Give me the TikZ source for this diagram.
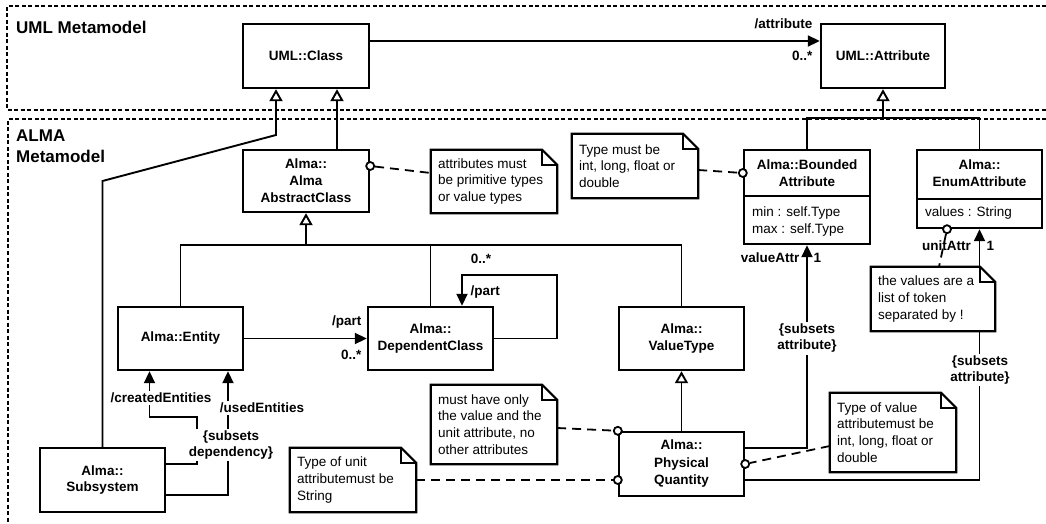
\documentclass[tikz,border=0pt]{standalone}
\usepackage{fontspec}
\setmainfont{Liberation Sans}
\usetikzlibrary{arrows.meta}
\pgfdeclarelayer{bg}
\pgfsetlayers{bg,main}
\newcommand\drawnote[1]{%
  \draw[line width=2.2pt, fill=white, line join=miter] (#1.north west) -- ([xshift=-15pt]#1.north east) -- ([yshift=-15pt]#1.north east) -- (#1.south east) -- (#1.south west) -- cycle;
  \draw[line width=2.2pt] ([xshift=-15pt]#1.north east) |- ([yshift=-15pt]#1.north east);}
\begin{document}
\begin{tikzpicture}[x=1pt,y=-1pt,
  cls/.style={draw, fill=white, line width=2.4pt, inner sep=0pt, align=center, font=\bfseries\fontsize{13.5}{17}\selectfont},
  txt/.style={inner sep=0pt, align=center, font=\bfseries\fontsize{13.5}{16.5}\selectfont},
  attrtxt/.style={inner sep=0pt, align=left, font=\fontsize{13.5}{17}\selectfont},
  notebase/.style={rectangle, inner sep=0pt},
  notetxt/.style={inner sep=0pt, align=left, font=\fontsize{13.5}{16.7}\selectfont},
  lbl/.style={inner sep=0.5pt, font=\bfseries\fontsize{13.5}{16}\selectfont},
  lblw/.style={inner sep=2pt, fill=white, align=center, font=\bfseries\fontsize{13.5}{16}\selectfont},
  head/.style={inner sep=0pt, align=left, font=\bfseries\fontsize{17}{21}\selectfont},
  conn/.style={line width=1.9pt},
  assoc/.style={conn, -{Triangle[length=12pt,width=11pt]}},
  gen/.style={conn, -{Triangle[open,length=12pt,width=13pt,fill=white]}},
  nlink/.style={line width=1.8pt, dash pattern=on 9pt off 6pt},
  frame/.style={line width=1.4pt, dash pattern=on 4pt off 2.5pt},
  circ/.style={circle, draw, fill=white, line width=1.8pt, minimum size=8pt, inner sep=0pt}
]
\useasboundingbox (0,0) rectangle (1046,524);

% headings
\node[head, anchor=west] (h1) at (16,27) {UML Metamodel};
\node[head, anchor=west] (h2) at (16,146.5) {ALMA\\Metamodel};

% classes
\node[cls, minimum width=126pt, minimum height=64pt] (UMLClass) at (306,56) {UML::Class};
\node[cls, minimum width=124pt, minimum height=64pt] (UMLAttr) at (883,56) {UML::Attribute};
\node[cls, minimum width=126pt, minimum height=62pt] (AbsClass) at (306,181) {Alma::\\Alma\\AbstractClass};
\node[cls, minimum width=125pt, minimum height=63pt] (Entity) at (180.5,338.5) {Alma::Entity};
\node[cls, minimum width=125pt, minimum height=63pt] (DepClass) at (430.5,338.5) {Alma::\\DependentClass};
\node[cls, minimum width=125pt, minimum height=63pt] (ValueType) at (681.5,338.5) {Alma::\\ValueType};
\node[cls, minimum width=125pt, minimum height=64pt, font=\bfseries\fontsize{13.5}{17.5}\selectfont] (PQ) at (681.5,464) {Alma::\\Physical\\Quantity};
\node[cls, minimum width=125pt, minimum height=64pt, font=\bfseries\fontsize{13.5}{16}\selectfont] (Subsystem) at (102.5,480) {Alma::\\Subsystem};
\node[cls, minimum width=126pt, minimum height=94pt] (BA) at (807,197) {};
\draw[line width=2.2pt] ([yshift=1pt]BA.west) -- ([yshift=1pt]BA.east);
\node[txt] (BAt) at (807,173) {Alma::Bounded\\Attribute};
\node[attrtxt, anchor=west] (BAa) at (752,221.5) {min : self.Type\\max : self.Type};
\node[cls, minimum width=125pt, minimum height=78pt] (EA) at (979.5,189) {};
\draw[line width=2.2pt] ([yshift=-10pt]EA.west) -- ([yshift=-10pt]EA.east);
\node[txt] (EAt) at (979.5,173) {Alma::\\EnumAttribute};
\node[attrtxt, anchor=west] (EAa) at (925,213) {values : String};

% notes
\node[notebase, minimum width=126pt, minimum height=63pt] (note1) at (494,181.5) {};
\drawnote{note1}
\node[notetxt, anchor=west] (note1t) at ([xshift=7pt]note1.west) {attributes must\\be primitive types\\or value types};
\node[notebase, minimum width=126pt, minimum height=64pt] (note2) at (635,166) {};
\drawnote{note2}
\node[notetxt, anchor=west] (note2t) at ([xshift=7pt]note2.west) {Type must be\\int, long, float or\\double};
\node[notebase, minimum width=124pt, minimum height=64pt] (note3) at (933,299) {};
\drawnote{note3}
\node[notetxt, anchor=west] (note3t) at ([xshift=7pt]note3.west) {the values are a\\list of token\\separated by !};
\node[notebase, minimum width=126pt, minimum height=79pt] (note4) at (494,424.5) {};
\drawnote{note4}
\node[notetxt, anchor=west] (note4t) at ([xshift=7pt]note4.west) {must have only\\the value and the\\unit attribute, no\\other attributes};
\node[notebase, minimum width=126pt, minimum height=64pt] (note5) at (353,480) {};
\drawnote{note5}
\node[notetxt, anchor=west] (note5t) at ([xshift=7pt]note5.west) {Type of unit\\attributemust be\\String};
\node[notebase, minimum width=126pt, minimum height=79pt] (note6) at (893,432.5) {};
\drawnote{note6}
\node[notetxt, anchor=west] (note6t) at ([xshift=7pt]note6.west) {Type of value\\attributemust be\\int, long, float or\\double};

% labels
\node[lbl, anchor=east] (l1) at (813,24) {/attribute};
\node[lbl, anchor=east] (l2) at (813,56) {0..*};
\node[lbl, anchor=east] (l3) at (362,322) {/part};
\node[lbl, anchor=east] (l4) at (362,355) {0..*};
\node[lbl] (l5) at (481,259) {0..*};
\node[lbl, anchor=west] (l6) at (470,292) {/part};
\node[lbl, anchor=east] (l7) at (800,258) {valueAttr};
\node[lbl, anchor=west] (l8) at (813,258) {1};
\node[lblw] (l9) at (807,338.5) {\{subsets\\attribute\}};
\node[lbl] (l10) at (946.5,246) {unitAttr};
\node[lbl, anchor=west] (l11) at (986,246) {1};
\node[lblw] (l12) at (980,370) {\{subsets\\attribute\}};
\node[lblw] (l13) at (161,398) {/createdEntities};
\node[lblw] (l14) at (262,408) {/usedEntities};
\node[lblw] (l15) at (231,445) {\{subsets\\dependency\}};

% note anchors
\node[circ] (c1) at ([yshift=15pt]AbsClass.east) {};
\node[circ] (c2) at ([yshift=24pt]BA.west) {};
\node[circ] (c3) at ([xshift=-32.5pt]EA.south) {};
\node[circ] (c4) at (PQ.north west) {};
\node[circ] (c5) at ([yshift=-16pt]PQ.west) {};
\node[circ] (c6) at (PQ.east) {};

\begin{pgfonlayer}{bg}
  \draw[frame] (1046,6) -- (7,6) -- (7,110) -- (1046,110);
  \draw[frame] (1046,119) -- (8,119) -- (8,524);
  % association UML
  \draw[assoc] ([yshift=15pt]UMLClass.east) -- ([yshift=15pt]UMLAttr.west);
  % generalizations
  \coordinate (g1a) at (102.5,181);
  \coordinate (g1b) at (276,135);
  \draw[gen] (Subsystem.north) -- (g1a) -- (g1b) -- (g1b |- UMLClass.south);
  \draw[gen] ([xshift=31pt]AbsClass.north) -- ([xshift=31pt]UMLClass.south);
  \coordinate (jA) at (306,245);
  \draw[conn] (Entity.north) |- (jA) -| (ValueType.north);
  \draw[conn] (DepClass.north) -- (DepClass.north |- jA);
  \draw[gen] (jA) -- (AbsClass.south);
  \draw[gen] (PQ.north) -- (ValueType.south);
  \coordinate (jB) at (883,118);
  \draw[conn] (BA.north) |- (jB) -| (EA.north);
  \draw[gen] (jB) -- (UMLAttr.south);
  % associations
  \draw[assoc] (Entity.east) -- (DepClass.west);
  \coordinate (s1) at (557,275);
  \draw[assoc] (DepClass.east) -| (s1) -| ([xshift=31.5pt]DepClass.north);
  \draw[assoc] ([yshift=16pt]PQ.east) -| (BA.south);
  \draw[assoc] ([yshift=-16pt]PQ.east) -| (EA.south);
  % dependencies
  \coordinate (d1) at (197,417);
  \draw[assoc] ([yshift=16pt]Subsystem.east) -| (d1) -| ([xshift=-31pt]Entity.south);
  \draw[assoc] ([yshift=-15pt]Subsystem.east) -| ([xshift=47.5pt]Entity.south);
  % note links
  \draw[nlink] (c1) -- ([yshift=8.5pt]note1.west);
  \draw[nlink] ([yshift=-4pt]note2.east) -- (c2);
  \draw[nlink] (c3) -- ([xshift=6pt]note3.north);
  \draw[nlink] ([yshift=-3.5pt]note4.east) -- (c4);
  \draw[nlink] (note5.east) -- (c5);
  \draw[nlink] ([yshift=-13.5pt]note6.west) -- (c6);
\end{pgfonlayer}
\end{tikzpicture}
\end{document}
